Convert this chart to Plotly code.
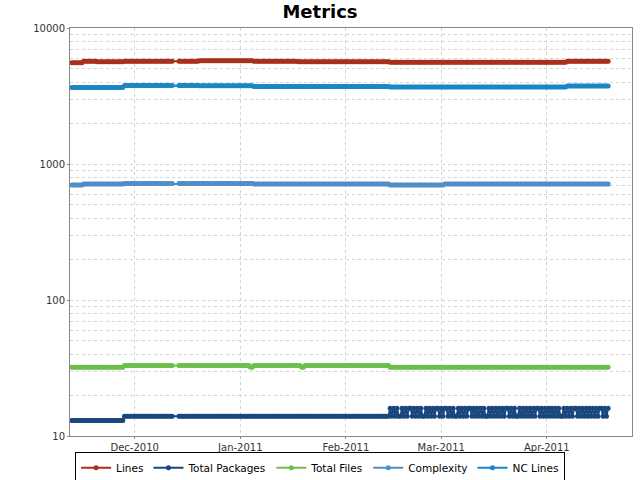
import pandas as pd
import plotly.graph_objects as go

# build times, two per day, with a pause in builds around Dec 13
build_start = "2010-11-12 12:00"
build_end = "2011-04-19 00:00"
gap_start = "2010-12-12 12:00"
gap_end = "2010-12-14 00:00"

# (date the value starts, value)
lines_steps = [("2010-11-12", 5550), ("2010-11-16", 5700), ("2010-11-20", 5650),
               ("2010-11-28", 5700), ("2010-12-20", 5750), ("2011-01-05", 5700),
               ("2011-01-18", 5650), ("2011-02-14", 5600), ("2011-04-07", 5700)]
nc_lines_steps = [("2010-11-12", 3650), ("2010-11-28", 3780), ("2010-12-20", 3760),
                  ("2011-01-05", 3720), ("2011-02-14", 3680), ("2011-04-07", 3740)]
complexity_steps = [("2010-11-12", 700), ("2010-11-16", 712), ("2010-11-28", 718),
                    ("2011-01-05", 712), ("2011-02-14", 702), ("2011-03-02", 712)]
files_steps = [("2010-11-12", 32), ("2010-11-28", 33), ("2011-01-04", 32),
               ("2011-01-05", 33), ("2011-01-19", 32), ("2011-01-20", 33),
               ("2011-02-14", 32)]
packages_steps = [("2010-11-12", 13), ("2010-11-28", 14)]
# from Feb 14 the package count flips between builds
packages_late = [16, 14, 16, 14, 16, 14, 14, 16, 14, 16, 14, 16, 16, 14, 16, 14,
                 16, 14, 16, 14, 14, 16, 14, 16, 14, 16, 14, 16, 16, 14, 16, 14,
                 16, 16, 14, 16, 14, 16, 14, 14, 16, 14, 16, 14, 16, 14, 16, 16,
                 14, 16, 14, 16, 14, 16, 14, 16, 14, 14, 16, 14, 16, 14, 16, 14,
                 16, 14, 16, 14, 16, 16, 14, 16, 14, 16, 14, 14, 16, 14, 16, 14,
                 16, 14, 16, 14, 16, 14, 16, 16, 14, 16, 14, 16, 14, 16, 14, 16,
                 14, 16, 14, 16, 14, 14, 16, 14, 16, 14, 16, 14, 16, 16, 14, 16,
                 14, 16, 14, 16, 14, 16, 14, 16, 14, 16, 14, 16, 16, 14, 16, 14,
                 16, 14, 16, 14]
packages_late_from = "2011-02-14"

tick_dates = ["2010-12-01", "2011-01-01", "2011-02-01", "2011-03-01", "2011-04-01"]
tick_labels = ["Dec-2010", "Jan-2011", "Feb-2011", "Mar-2011", "Apr-2011"]

dates = pd.date_range(build_start, build_end, freq="12h")
dates = dates[(dates < pd.Timestamp(gap_start)) | (dates >= pd.Timestamp(gap_end))]


def step_values(steps):
    vals = []
    for d in dates:
        v = steps[0][1]
        for s, sv in steps:
            if d >= pd.Timestamp(s):
                v = sv
        vals.append(v)
    return vals


packages = step_values(packages_steps)
late_idx = [i for i, d in enumerate(dates) if d >= pd.Timestamp(packages_late_from)]
for i, v in zip(late_idx, packages_late):
    packages[i] = v

series = [
    ("Lines", step_values(lines_steps), "#a8301c"),
    ("Total Packages", packages, "#1a467e"),
    ("Total Files", step_values(files_steps), "#6cbf4c"),
    ("Complexity", step_values(complexity_steps), "#4f8fc6"),
    ("NC Lines", step_values(nc_lines_steps), "#1b86c6"),
]

fig = go.Figure()
for name, vals, color in series:
    fig.add_trace(go.Scatter(x=dates, y=vals, name=name, mode="lines+markers",
                             line=dict(color=color, width=2),
                             marker=dict(color=color, size=5)))

grid = "#d4d4d4"
fig.update_layout(
    width=640, height=480, template="none",
    paper_bgcolor="white", plot_bgcolor="white",
    font=dict(family="DejaVu Sans", size=10, color="#333"),
    margin=dict(l=70, r=8, t=28, b=44, autoexpand=False),
    title=dict(text="<b>Metrics</b>", x=0.5, xref="container", y=0.975,
               yref="container", yanchor="middle",
               font=dict(size=18, color="black")),
    showlegend=True,
    legend=dict(orientation="h", x=0.445, xanchor="center",
                y=-0.04, yanchor="top", bordercolor="black", borderwidth=1,
                font=dict(size=10.5, color="black"), itemwidth=30,
                tracegroupgap=0),
)
fig.update_xaxes(
    range=["2010-11-12", "2011-04-26"],
    tickvals=tick_dates, ticktext=tick_labels, tickangle=0,
    showgrid=True, gridcolor=grid, griddash="3px,3px", gridwidth=1,
    showline=True, linecolor="#888", mirror=True, zeroline=False,
    ticks="outside", ticklen=2, tickcolor="#888",
)
minor_vals = [m * 10 ** e for e in range(1, 4) for m in range(2, 10)]
fig.update_yaxes(
    type="log", range=[1, 4],
    tickvals=[10, 100, 1000, 10000], ticktext=["10", "100", "1000", "10000"],
    showgrid=True, gridcolor=grid, griddash="3px,3px", gridwidth=1,
    minor=dict(tickvals=minor_vals, showgrid=True, gridcolor=grid,
               griddash="3px,3px", ticks=""),
    showline=True, linecolor="#888", mirror=True, zeroline=False,
    ticks="outside", ticklen=2, tickcolor="#888",
)

fig.write_html("out.html", config={"displayModeBar": False},
               post_script="document.body.style.margin = '0';")
